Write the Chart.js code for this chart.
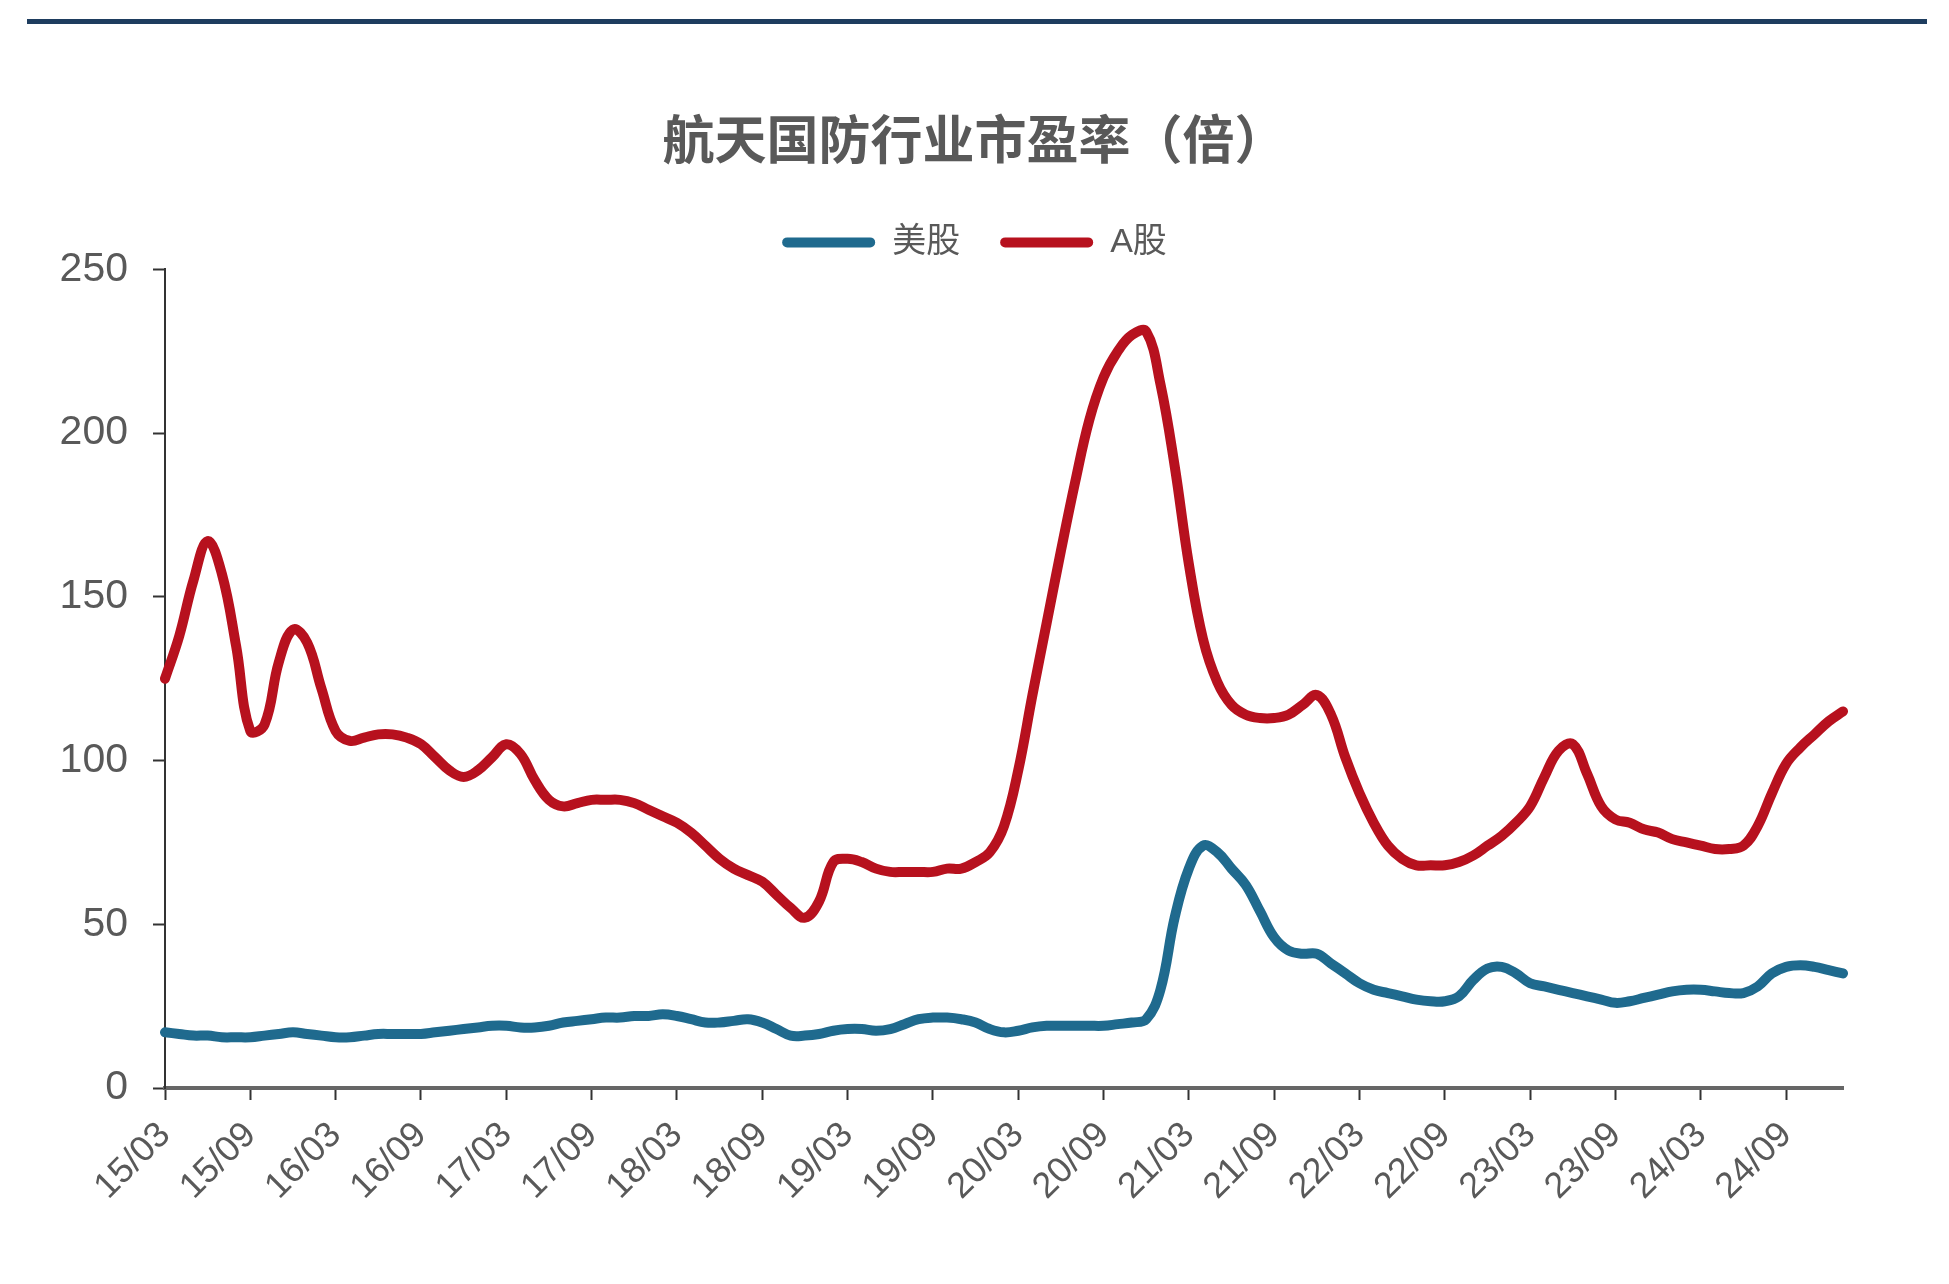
<!DOCTYPE html>
<html lang="zh-CN">
<head>
    <meta charset="UTF-8">
    <title>航天国防行业市盈率（倍）</title>
    <script src="https://cdn.jsdelivr.net/npm/chart.js"></script>
    <style>
        body {
            margin: 0;
            background-color: #ffffff;
        }
        .top-rule {
            position: absolute;
            left: 27px;
            top: 19px;
            width: 1900px;
            height: 5px;
            background-color: #1e3d5f;
        }
        .chart-container {
            position: relative;
            width: 1949px;
            height: 1284px;
        }
    </style>
</head>
<body>

    <div class="top-rule"></div>
    <div class="chart-container">
        <canvas id="peChart"></canvas>
    </div>

    <script>
        // tick labels shown on the x axis (every 6 months)
        const tickLabels = ['15/03', '15/09', '16/03', '16/09', '17/03', '17/09', '18/03', '18/09', '19/03', '19/09',
                            '20/03', '20/09', '21/03', '21/09', '22/03', '22/09', '23/03', '23/09', '24/03', '24/09'];

        // 美股 (monthly, 15/03 .. 25/01)
        const usPE = [
            17, 16.5, 16, 16, 15.5, 15.5, 15.5, 16, 16.5, 17, 16.5, 16,
            15.5, 15.5, 16, 16.5, 16.5, 16.5, 16.5, 17, 17.5, 18, 18.5, 19,
            19, 18.5, 18.5, 19, 20, 20.5, 21, 21.5, 21.5, 22, 22, 22.5,
            22, 21, 20, 20, 20.5, 21, 20, 18, 16, 16, 16.5, 17.5,
            18, 18, 17.5, 18, 19.5, 21, 21.5, 21.5, 21, 20, 18, 17,
            17.5, 18.5, 19, 19, 19, 19, 19, 19.5, 20, 21, 30, 52,
            67, 74, 72, 67, 62, 54, 46, 42, 41, 41, 38, 35,
            32, 30, 29, 28, 27, 26.5, 26.5, 28, 33, 36.5, 37, 35,
            32, 31, 30, 29, 28, 27, 26, 26.5, 27.5, 28.5, 29.5, 30,
            30, 29.5, 29, 29, 31, 35, 37, 37.5, 37, 36, 35
        ];

        // A股 (monthly, 15/03 .. 25/01)
        const aSharePE = [
            125, 138, 155, 167, 157, 135, 109, 111, 130, 140, 136, 122,
            109, 106, 107, 108, 108, 107, 105, 101, 97, 95, 97, 101,
            105, 102, 94, 88, 86, 87, 88, 88, 88, 87, 85, 83,
            81, 78, 74, 70, 67, 65, 63, 59, 55, 52, 57, 69,
            70, 69, 67, 66, 66, 66, 66, 67, 67, 69, 72, 80,
            97, 120, 142, 164, 185, 204, 217, 225, 230, 231, 215, 190,
            160, 137, 124, 117, 114, 113, 113, 114, 117, 120, 114, 101,
            90, 81, 74, 70, 68, 68, 68, 69, 71, 74, 77, 81,
            86, 95, 103, 105, 96, 86, 82, 81, 79, 78, 76, 75,
            74, 73, 73, 74, 80, 90, 99, 104, 108, 112, 115
        ];

        // monthly category labels yy/mm starting 15/03
        const months = [];
        for (let i = 0; i < usPE.length; i++) {
            const total = 2 + i; // month index from Jan 2015 (0-based)
            const yy = 15 + Math.floor(total / 12);
            const mm = (total % 12) + 1;
            months.push(yy + '/' + String(mm).padStart(2, '0'));
        }

        const numFont = "'Liberation Sans', Arial, sans-serif";
        const cjkFont = "'Liberation Sans', 'Noto Sans CJK SC', sans-serif";

        const ctx = document.getElementById('peChart').getContext('2d');
        new Chart(ctx, {
            type: 'line',
            data: {
                labels: months,
                datasets: [
                    {
                        label: '美股',
                        data: usPE,
                        borderColor: '#1f6a8e',
                        backgroundColor: '#1f6a8e',
                        borderWidth: 10,
                        pointRadius: 0,
                        tension: 0.4,
                        borderCapStyle: 'round',
                        borderJoinStyle: 'round'
                    },
                    {
                        label: 'A股',
                        data: aSharePE,
                        borderColor: '#b7111e',
                        backgroundColor: '#b7111e',
                        borderWidth: 10,
                        pointRadius: 0,
                        tension: 0.4,
                        borderCapStyle: 'round',
                        borderJoinStyle: 'round'
                    }
                ]
            },
            options: {
                responsive: true,
                maintainAspectRatio: false,
                animation: false,
                layout: {
                    padding: 0
                },
                plugins: {
                    title: {
                        display: true,
                        text: '航天国防行业市盈率（倍）',
                        color: '#595959',
                        font: { family: "'Noto Sans CJK SC', sans-serif", size: 52, weight: 'bold' },
                        padding: { top: 108, bottom: 15 }
                    },
                    legend: {
                        position: 'top',
                        labels: {
                            boxWidth: 93,
                            boxHeight: 10,
                            padding: 40,
                            color: '#595959',
                            font: { family: cjkFont, size: 34 },
                            useBorderRadius: true,
                            borderRadius: 5,
                            generateLabels(chart) {
                                const items = Chart.defaults.plugins.legend.labels.generateLabels(chart);
                                items.forEach(item => { item.lineWidth = 0; });
                                return items;
                            }
                        }
                    },
                    tooltip: { enabled: false }
                },
                scales: {
                    x: {
                        type: 'category',
                        offset: false,
                        afterBuildTicks(scale) {
                            scale.ticks = scale.ticks.filter(t => tickLabels.includes(months[t.value]));
                        },
                        afterFit(scale) {
                            scale.height = 196;
                        },
                        grid: {
                            drawOnChartArea: false,
                            tickLength: 12,
                            tickColor: '#333333',
                            tickWidth: 2
                        },
                        border: { display: true, color: '#666666', width: 4 },
                        ticks: {
                            autoSkip: false,
                            minRotation: 45,
                            maxRotation: 45,
                            padding: 14,
                            color: '#595959',
                            font: { family: numFont, size: 36 }
                        }
                    },
                    y: {
                        min: 0,
                        max: 250,
                        afterFit(scale) {
                            scale.width = 165;
                        },
                        grid: {
                            drawOnChartArea: false,
                            tickLength: 12,
                            tickColor: '#333333',
                            tickWidth: 2
                        },
                        border: { display: true, color: '#333333', width: 2 },
                        ticks: {
                            stepSize: 50,
                            padding: 25,
                            color: '#595959',
                            font: { family: numFont, size: 41 }
                        }
                    },
                    // empty right-hand axis, only reserves the blank strip right of the plot
                    yRight: {
                        position: 'right',
                        afterFit(scale) {
                            scale.width = 106;
                        },
                        grid: { display: false },
                        border: { display: false },
                        ticks: { display: false }
                    }
                }
            }
        });
    </script>

</body>
</html>
